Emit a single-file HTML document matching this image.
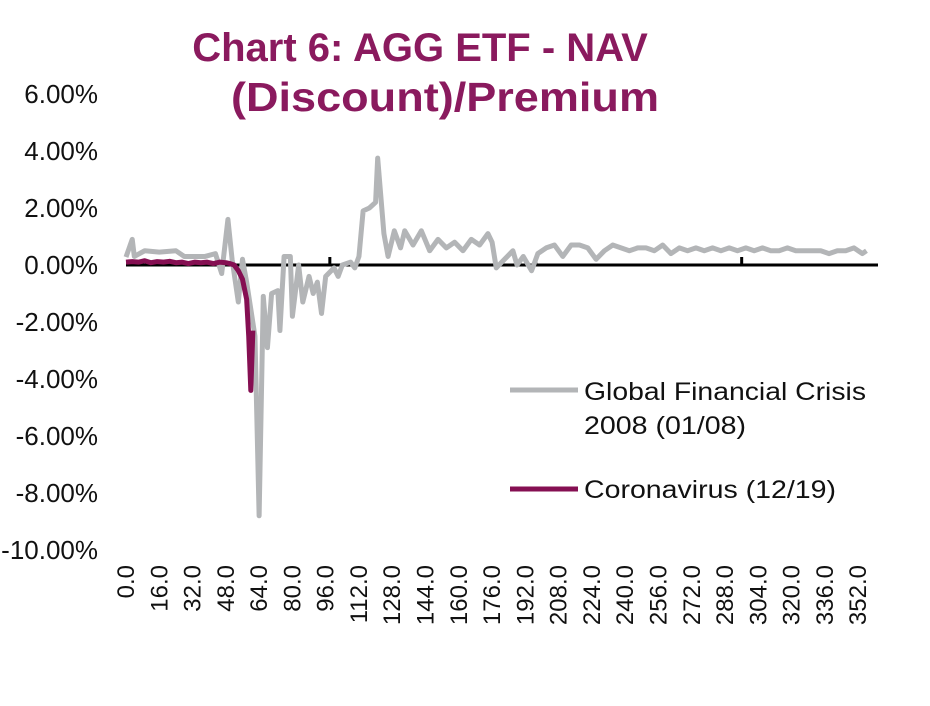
<!DOCTYPE html>
<html><head><meta charset="utf-8"><style>
html,body{margin:0;padding:0;background:#fff;width:930px;height:706px;overflow:hidden}
svg{display:block;font-family:"Liberation Sans",Arial,sans-serif}
</style></head><body>
<svg id="chart" width="930" height="706">
<text x="420" y="61" text-anchor="middle" font-size="40" font-weight="bold" fill="#8a1a5e">Chart 6: AGG ETF - NAV</text>
<text x="445" y="111" text-anchor="middle" font-size="41" font-weight="bold" fill="#8a1a5e" textLength="428" lengthAdjust="spacingAndGlyphs">(Discount)/Premium</text>
<g id="yaxis"></g>
<g id="xaxis"></g>
<g id="series"></g>
<g>
<line x1="510" y1="390" x2="578" y2="390" stroke="#b3b5b7" stroke-width="5"/>
<text x="584" y="400" font-size="25" fill="#111" textLength="282" lengthAdjust="spacingAndGlyphs">Global Financial Crisis</text>
<text x="584" y="434" font-size="25" fill="#111" textLength="162" lengthAdjust="spacingAndGlyphs">2008 (01/08)</text>
<line x1="510" y1="489" x2="578" y2="489" stroke="#850f52" stroke-width="5"/>
<text x="584" y="498" font-size="25" fill="#111" textLength="252" lengthAdjust="spacingAndGlyphs">Coronavirus (12/19)</text>
</g>
</svg>
<script>
const yTicks=[6,4,2,0,-2,-4,-6,-8,-10];
const xTicks=[0,16,32,48,64,80,96,112,128,144,160,176,192,208,224,240,256,272,288,304,320,336,352];
const gfcX=[0,3,4,9,16,24,28,38,43,46,49,51,54,56,58,62,64,66,68,70,73,74,76,79,80,83,85,88,90,92,94,96,100,102,104,108,110,112,114,117,120,121,124,126,129,132,134,138,142,146,150,154,158,162,166,170,174,176,178,182,186,188,191,195,198,202,206,210,214,218,222,226,230,234,238,242,246,250,254,258,262,266,270,274,278,282,286,290,294,298,302,306,310,314,318,322,326,330,334,338,342,346,350,354,356];
const gfcY=[0.28,0.9,0.3,0.5,0.45,0.5,0.3,0.3,0.4,-0.3,1.6,0.2,-1.3,0.2,-0.6,-2.5,-8.8,-1.1,-2.9,-1.0,-0.9,-2.3,0.3,0.3,-1.8,0.0,-1.3,-0.4,-1.0,-0.6,-1.7,-0.4,-0.1,-0.4,0.0,0.1,-0.1,0.3,1.9,2.0,2.2,3.75,1.1,0.3,1.2,0.6,1.2,0.7,1.2,0.5,0.9,0.6,0.8,0.5,0.9,0.7,1.1,0.8,-0.1,0.2,0.5,0.0,0.3,-0.2,0.4,0.6,0.7,0.3,0.7,0.7,0.6,0.2,0.5,0.7,0.6,0.5,0.6,0.6,0.5,0.7,0.4,0.6,0.5,0.6,0.5,0.6,0.5,0.6,0.5,0.6,0.5,0.6,0.5,0.5,0.6,0.5,0.5,0.5,0.5,0.4,0.5,0.5,0.6,0.4,0.5];
const covidX=[0,3,6,9,12,15,18,21,24,27,30,33,36,39,42,45,48,50,52,54,56,58,59,60,61];
const covidY=[0.1,0.12,0.1,0.15,0.08,0.12,0.1,0.13,0.08,0.1,0.05,0.1,0.08,0.1,0.05,0.1,0.08,0.05,0.0,-0.2,-0.5,-1.2,-2.5,-4.4,-2.3];
const NS='http://www.w3.org/2000/svg';
const X0=126,XS=2.08,Y0=265,YS=28.5;
const sx=v=>X0+v*XS, sy=v=>Y0-v*YS;
function mk(t,a,p){const e=document.createElementNS(NS,t);for(const k in a)e.setAttribute(k,a[k]);p.appendChild(e);return e;}
const ya=document.getElementById('yaxis'),xa=document.getElementById('xaxis'),sr=document.getElementById('series');
yTicks.forEach(v=>{const t=mk('text',{x:98,y:sy(v)+9,'text-anchor':'end','font-size':26,fill:'#111'},ya);t.textContent=v.toFixed(2)+'%';

});
xTicks.forEach(v=>{const x=sx(v)+8;const t=mk('text',{x:x,y:565,'text-anchor':'end','font-size':24,fill:'#111',transform:`rotate(-90 ${x} 565)`},xa);t.textContent=v.toFixed(1);

});
const zl=mk('line',{x1:126,y1:Y0,x2:878,y2:Y0,stroke:'#000','stroke-width':3},xa);


[98,197,296].forEach(v=>{const t=mk('line',{x1:sx(v),y1:Y0,x2:sx(v),y2:Y0-8,stroke:'#000','stroke-width':3},xa);

});
function line(xs,ys,c,n){const p=mk('polyline',{points:xs.map((x,i)=>sx(x)+','+sy(ys[i])).join(' '),fill:'none',stroke:c,'stroke-width':5,'stroke-linejoin':'round'},sr);

}
line(gfcX,gfcY,'#b3b5b7','gfc-line');
line(covidX,covidY,'#850f52','coronavirus-line');
</script>
</body></html>
